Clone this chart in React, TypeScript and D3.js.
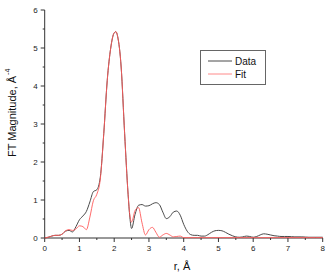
import React from "react";
import * as d3 from "d3";

const rValues = [
  0, 0.1, 0.2, 0.3, 0.4, 0.5, 0.6, 0.7, 0.8, 0.9, 1.0, 1.1, 1.2, 1.3, 1.4, 1.5, 1.6, 1.7, 1.8, 1.9,
  2.0, 2.05, 2.1, 2.2, 2.3, 2.4, 2.45, 2.5, 2.6, 2.7, 2.8, 2.9, 3.0, 3.1, 3.2, 3.3, 3.4, 3.5, 3.6, 3.7, 3.8, 3.9,
  4.0, 4.1, 4.2, 4.3, 4.4, 4.5, 4.6, 4.7, 4.8, 4.9, 5.0, 5.1, 5.2, 5.3, 5.4, 5.5, 5.6, 5.7, 5.8, 5.9,
  6.0, 6.1, 6.2, 6.3, 6.4, 6.5, 6.6, 6.7, 6.8, 6.9, 7.0, 7.2, 7.4, 7.6, 7.8, 8.0,
];
const dataValues = [
  0, 0.02, 0.05, 0.07, 0.07, 0.1, 0.18, 0.2, 0.16, 0.3, 0.48, 0.58, 0.7, 0.95, 1.22, 1.27, 1.6, 2.75, 4.15, 5.0,
  5.4, 5.43, 5.3, 4.5, 2.75, 1.15, 0.55, 0.25, 0.62, 0.86, 0.88, 0.84, 0.85, 0.9, 0.93, 0.88, 0.68, 0.51, 0.56, 0.68, 0.71, 0.6,
  0.36, 0.18, 0.09, 0.07, 0.07, 0.05, 0.05, 0.09, 0.15, 0.19, 0.2, 0.19, 0.15, 0.1, 0.06, 0.03, 0.02, 0.03, 0.05, 0.04,
  0.02, 0.04, 0.08, 0.11, 0.1, 0.08, 0.06, 0.05, 0.04, 0.04, 0.04, 0.03, 0.03, 0.02, 0.02, 0.02,
];
const fitValues = [
  0, 0.02, 0.05, 0.07, 0.07, 0.1, 0.19, 0.22, 0.2, 0.24, 0.32, 0.3, 0.22, 0.55, 0.98, 1.15, 1.55, 2.75, 4.15, 5.0,
  5.4, 5.43, 5.3, 4.5, 2.75, 1.15, 0.6, 0.42, 0.72, 0.8, 0.4, 0.08, 0.22, 0.28, 0.15, 0.02, 0.08, 0.12, 0.08, 0.03, 0.04, 0.05,
  0.01, 0.01, 0.01, 0.01, 0.01, 0.01, 0.01, 0.01, 0.01, 0.01, 0.01, 0.01, 0.01, 0.01, 0.01, 0.01, 0.01, 0.01, 0.01, 0.01,
  0.01, 0.01, 0.01, 0.01, 0.01, 0.01, 0.01, 0.01, 0.01, 0.01, 0.01, 0.01, 0.01, 0.01, 0.01, 0.01,
];
const xTicks = [0, 1, 2, 3, 4, 5, 6, 7, 8];
const yTicks = [0, 1, 2, 3, 4, 5, 6];
const legendLabels = ["Data", "Fit"];

const W = 331;
const H = 275;
const font = "'Liberation Sans', Arial, sans-serif";
const dataColor = "#4a4a4a";
const fitColor = "#ff5a5a";

export default function App() {
  const x = d3.scaleLinear().domain([0, 8]).range([44.7, 322.7]);
  const y = d3.scaleLinear().domain([0, 6]).range([238, 10]);

  const line = (vals: number[]) =>
    d3
      .line<number>()
      .x((_, i) => x(rValues[i]))
      .y((v) => y(v))
      .curve(d3.curveMonotoneX)(vals) || "";

  const xMinor = d3.range(0.5, 8, 1);
  const yMinor = d3.range(0.5, 6, 1);

  return (
    <svg
      width={W}
      height={H}
      style={{ position: "absolute", left: 0, top: 0, background: "#fff" }}
      fontFamily={font}
    >
      {/* axes */}
      <g stroke="#333" strokeWidth={1}>
        <line x1={x(0)} x2={x(0)} y1={y(0)} y2={y(6)} />
        <line x1={x(0)} x2={x(8)} y1={y(0)} y2={y(0)} />
        {yTicks.map((t) => (
          <line key={"yt" + t} x1={x(0) - 4} x2={x(0)} y1={y(t)} y2={y(t)} />
        ))}
        {yMinor.map((t) => (
          <line key={"ym" + t} x1={x(0) - 2} x2={x(0)} y1={y(t)} y2={y(t)} />
        ))}
        {xTicks.map((t) => (
          <line key={"xt" + t} x1={x(t)} x2={x(t)} y1={y(0)} y2={y(0) + 4} />
        ))}
        {xMinor.map((t) => (
          <line key={"xm" + t} x1={x(t)} x2={x(t)} y1={y(0)} y2={y(0) + 2} />
        ))}
      </g>
      {yTicks.map((t) => (
        <text key={"yl" + t} x={x(0) - 7} y={y(t) + 3} fontSize={8} textAnchor="end" fill="#222">
          {t}
        </text>
      ))}
      {xTicks.map((t) => (
        <text key={"xl" + t} x={x(t)} y={y(0) + 13} fontSize={8} textAnchor="middle" fill="#222">
          {t}
        </text>
      ))}

      {/* axis titles */}
      <text x={182} y={270} fontSize={11} textAnchor="middle" fill="#111">
        r, Å
      </text>
      <g transform="translate(16,157) rotate(-90)">
        <text x={0} y={0} fontSize={11} fill="#111">
          FT Magnitude, Å
          <tspan fontSize={7} dx={1} dy={-6}>-4</tspan>
        </text>
      </g>

      {/* curves */}
      <path d={line(dataValues)} fill="none" stroke={dataColor} strokeWidth={1} />
      <path d={line(fitValues)} fill="none" stroke={fitColor} strokeWidth={1} strokeOpacity={0.9} />

      {/* legend */}
      <rect x={200.5} y={50.5} width={65} height={34} fill="#fff" stroke="#666" strokeWidth={1} />
      {legendLabels.map((lab, i) => (
        <g key={lab}>
          <line
            x1={208}
            x2={232}
            y1={61 + i * 13}
            y2={61 + i * 13}
            stroke={i === 0 ? dataColor : "#ff8a8a"}
            strokeWidth={1}
          />
          <text x={235} y={65 + i * 13} fontSize={10} fill="#111">
            {lab}
          </text>
        </g>
      ))}
    </svg>
  );
}
